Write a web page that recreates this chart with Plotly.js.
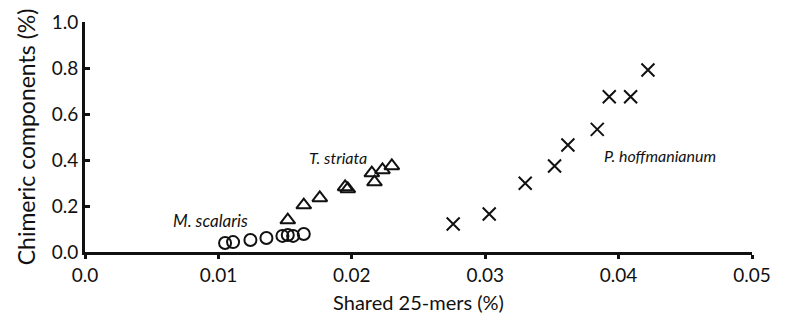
<!DOCTYPE html>
<html>
<head>
<meta charset="utf-8">
<script src="https://cdn.plot.ly/plotly-3.0.1.min.js"></script>
<style>html,body{margin:0;padding:0;background:#fff;}#chart{width:787px;height:324px;}</style>
</head>
<body>
<div id="chart"></div>
<script>
// M. scalaris (circles)
const scalarisX = [0.0105, 0.0111, 0.0124, 0.0136, 0.0148, 0.0152, 0.0156, 0.0164];
const scalarisY = [0.039, 0.043, 0.052, 0.061, 0.070, 0.074, 0.070, 0.078];
// T. striata (triangles)
const striataX = [0.0152, 0.0164, 0.0176, 0.0195, 0.0197, 0.0215, 0.0217, 0.0223, 0.0230];
const striataY = [0.139, 0.204, 0.235, 0.283, 0.274, 0.343, 0.304, 0.357, 0.374];
// P. hoffmanianum (crosses)
const hoffX = [0.0276, 0.0303, 0.0330, 0.0352, 0.0362, 0.0384, 0.0393, 0.0409, 0.0422];
const hoffY = [0.122, 0.165, 0.299, 0.374, 0.465, 0.533, 0.675, 0.675, 0.791];

const xTicks = [0, 0.01, 0.02, 0.03, 0.04, 0.05];
const xTickText = ['0.0', '0.01', '0.02', '0.03', '0.04', '0.05'];
const yTicks = [0, 0.2, 0.4, 0.6, 0.8, 1.0];
const yTickText = ['0.0', '0.2', '0.4', '0.6', '0.8', '1.0'];

const FONT = 'Lato, Open Sans, sans-serif';

const traces = [
  {x: scalarisX, y: scalarisY, mode: 'markers', type: 'scatter', name: 'M. scalaris',
   marker: {symbol: 'circle-open', size: 12, color: '#111', line: {width: 2, color: '#111'}}},
  {x: striataX, y: striataY, mode: 'markers', type: 'scatter', name: 'T. striata',
   marker: {symbol: 'triangle-up-open', size: 13, color: '#111', line: {width: 2, color: '#111'}}},
  {x: hoffX, y: hoffY, mode: 'markers', type: 'scatter', name: 'P. hoffmanianum',
   marker: {symbol: 'x-thin-open', size: 13, color: '#111', line: {width: 2, color: '#111'}}}
];

const layout = {
  width: 787, height: 324,
  margin: {l: 85, r: 35, t: 22, b: 72},
  paper_bgcolor: '#fff', plot_bgcolor: '#fff',
  showlegend: false,
  font: {family: FONT, color: '#111', size: 18},
  xaxis: {
    range: [0, 0.05], tickvals: xTicks, ticktext: xTickText,
    showgrid: false, zeroline: false, showline: true, linewidth: 3, linecolor: '#111',
    ticks: 'outside', ticklen: 4, tickwidth: 3, tickcolor: '#111',
    tickfont: {family: FONT, size: 19, color: '#111'},
    title: {text: 'Shared 25-mers (%)', font: {family: FONT, size: 20, color: '#111'}, standoff: 12}
  },
  yaxis: {
    range: [0, 1.0], tickvals: yTicks, ticktext: yTickText,
    showgrid: false, zeroline: false, showline: true, linewidth: 3, linecolor: '#111',
    ticks: 'inside', ticklen: 5, tickwidth: 3, tickcolor: '#111',
    tickfont: {family: FONT, size: 19, color: '#111'},
    title: {text: 'Chimeric components (%)', font: {family: FONT, size: 23, color: '#111'}, standoff: 10}
  },
  annotations: [
    {x: 0.00937, y: 0.139, xref: 'x', yref: 'y', text: '<i>M. scalaris</i>', showarrow: false,
     font: {family: FONT, size: 17, color: '#111'}},
    {x: 0.0190, y: 0.413, xref: 'x', yref: 'y', text: '<i>T. striata</i>', showarrow: false,
     font: {family: FONT, size: 16, color: '#111'}},
    {x: 0.0431, y: 0.42, xref: 'x', yref: 'y', text: '<i>P. hoffmanianum</i>', showarrow: false,
     font: {family: FONT, size: 16, color: '#111'}}
  ]
};

Plotly.newPlot('chart', traces, layout, {staticPlot: true, displayModeBar: false});
</script>
</body>
</html>
